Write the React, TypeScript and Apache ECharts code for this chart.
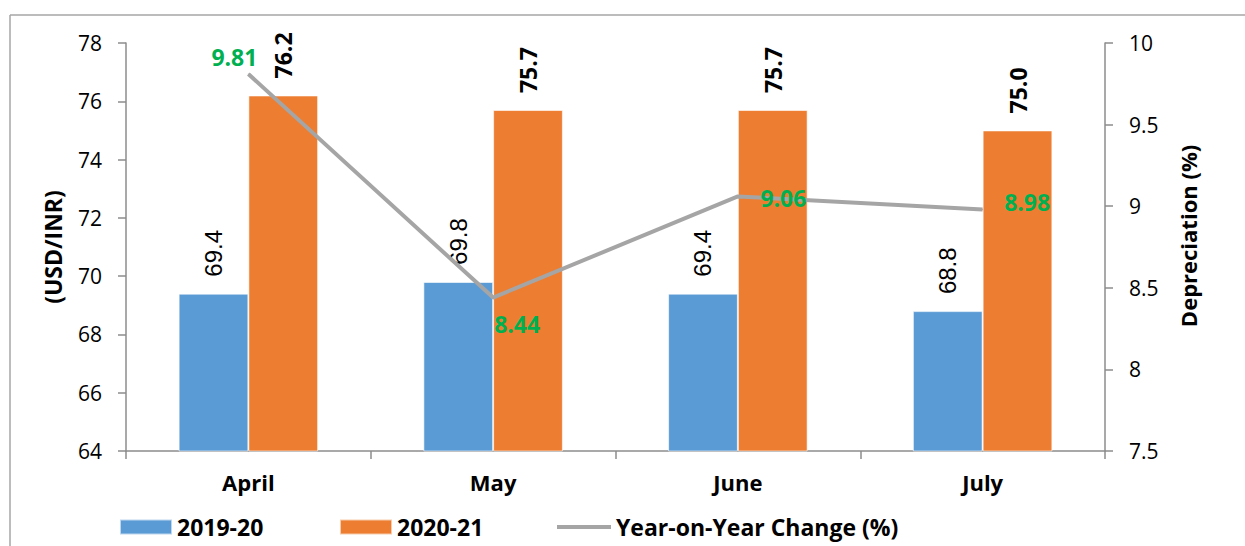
import React, { useEffect, useRef } from "react";
import * as echarts from "echarts";

const categories = ["April", "May", "June", "July"];
const series2019 = [69.4, 69.8, 69.4, 68.8];
const series2020 = [76.2, 75.7, 75.7, 75.0];
const yoyChange = [9.81, 8.44, 9.06, 8.98];
const leftTicks = { min: 64, max: 78, interval: 2 };
const rightTicks = { min: 7.5, max: 10, interval: 0.5 };

const FONT = "'Open Sans', 'Noto Sans', sans-serif";
const AXIS_COLOR = "#8C8C8C";
const GREEN = "#00B050";

export default function App() {
  const ref = useRef<HTMLDivElement>(null);

  useEffect(() => {
    document.body.style.margin = "0";
    if (!ref.current) return;
    const chart = echarts.init(ref.current, undefined, { renderer: "svg" });

    const lineLabelCfg = [
      { position: "top", distance: 5, offset: [-14, 0] },
      { position: "bottom", distance: 14, offset: [24, 0] },
      { position: "right", distance: 22, offset: [0, 2] },
      { position: "right", distance: 21, offset: [0, -7] },
    ];

    const legendText = { fontFamily: FONT, fontWeight: "bold", fontSize: 23, color: "#000", lineHeight: 24 };
    const legendTop = 515;

    const option: any = {
      animation: false,
      textStyle: { fontFamily: FONT },
      grid: { left: 126, right: 140, top: 43, bottom: 95, containLabel: false },
      graphic: [
        {
          type: "line",
          shape: { x1: 10, y1: 15, x2: 1245, y2: 15 },
          style: { stroke: "#A6A6A6", lineWidth: 1.5 },
          silent: true,
        },
        {
          type: "line",
          shape: { x1: 10, y1: 15, x2: 10, y2: 546 },
          style: { stroke: "#A6A6A6", lineWidth: 1.5 },
          silent: true,
        },
      ],
      legend: [
        {
          data: ["2019-20"],
          left: 119,
          top: legendTop,
          padding: 0,
          itemWidth: 52,
          itemHeight: 15,
          icon: "rect",
          textStyle: legendText,
        },
        {
          data: ["2020-21"],
          left: 339,
          top: legendTop,
          padding: 0,
          itemWidth: 52,
          itemHeight: 15,
          icon: "rect",
          textStyle: legendText,
        },
        {
          data: ["Year-on-Year Change (%)"],
          left: 557,
          top: legendTop,
          padding: 0,
          itemWidth: 54,
          itemHeight: 4,
          icon: "rect",
          textStyle: legendText,
        },
      ],
      xAxis: {
        type: "category",
        data: categories,
        axisLine: { lineStyle: { color: AXIS_COLOR, width: 1.5 } },
        axisTick: { show: true, length: 8, alignWithLabel: false, lineStyle: { color: AXIS_COLOR, width: 1.5 } },
        axisLabel: { fontFamily: FONT, fontWeight: "bold", fontSize: 22, color: "#000", margin: 20 },
      },
      yAxis: [
        {
          type: "value",
          min: leftTicks.min,
          max: leftTicks.max,
          interval: leftTicks.interval,
          name: "(USD/INR)",
          nameLocation: "middle",
          nameGap: 62,
          nameTextStyle: { fontFamily: FONT, fontWeight: "bold", fontSize: 23, color: "#000" },
          axisLine: { show: true, lineStyle: { color: AXIS_COLOR, width: 1.5 } },
          axisTick: { show: true, length: 8, lineStyle: { color: AXIS_COLOR, width: 1.5 } },
          axisLabel: { fontFamily: FONT, fontSize: 21, color: "#000", margin: 24 },
          splitLine: { show: false },
        },
        {
          type: "value",
          min: rightTicks.min,
          max: rightTicks.max,
          interval: rightTicks.interval,
          name: "Depreciation (%)",
          nameLocation: "middle",
          nameGap: 72,
          nameRotate: 90,
          nameTextStyle: { fontFamily: FONT, fontWeight: "bold", fontSize: 22, color: "#000", padding: [0, 0, 0, 22] },
          axisLine: { show: true, lineStyle: { color: AXIS_COLOR, width: 1.5 } },
          axisTick: { show: true, length: 8, lineStyle: { color: AXIS_COLOR, width: 1.5 } },
          axisLabel: { fontFamily: FONT, fontSize: 21, color: "#000", margin: 24 },
          splitLine: { show: false },
        },
      ],
      series: [
        {
          name: "2019-20",
          type: "bar",
          data: series2019,
          barGap: "0%",
          barCategoryGap: "43%",
          itemStyle: { color: "#5B9BD5", borderColor: "rgba(255,255,255,0.6)", borderWidth: 1 },
          label: {
            show: true,
            position: "top",
            rotate: 90,
            align: "left",
            verticalAlign: "middle",
            distance: 17,
            fontFamily: "'Liberation Sans', Arial, sans-serif",
            fontSize: 24,
            color: "#000",
            formatter: (p: any) => Number(p.value).toFixed(1),
          },
        },
        {
          name: "2020-21",
          type: "bar",
          data: series2020,
          itemStyle: { color: "#ED7D31", borderColor: "rgba(255,255,255,0.6)", borderWidth: 1 },
          label: {
            show: true,
            position: "top",
            rotate: 90,
            align: "left",
            verticalAlign: "middle",
            distance: 17,
            fontFamily: FONT,
            fontWeight: "bold",
            fontSize: 23,
            color: "#000",
            formatter: (p: any) => Number(p.value).toFixed(1),
          },
        },
        {
          name: "Year-on-Year Change (%)",
          type: "line",
          yAxisIndex: 1,
          z: 10,
          symbol: "circle",
          symbolSize: 1,
          showSymbol: true,
          itemStyle: { color: "#A5A5A5" },
          lineStyle: { color: "#A5A5A5", width: 4 },
          data: yoyChange.map((v, i) => ({
            value: v,
            label: {
              show: true,
              position: lineLabelCfg[i].position,
              distance: lineLabelCfg[i].distance,
              offset: lineLabelCfg[i].offset,
              fontFamily: FONT,
              fontWeight: "bold",
              fontSize: 23,
              color: GREEN,
              formatter: (p: any) => Number(p.value).toFixed(2),
            },
          })),
        },
      ],
    };

    chart.setOption(option);
    return () => chart.dispose();
  }, []);

  return <div ref={ref} style={{ width: 1245, height: 546 }} />;
}
